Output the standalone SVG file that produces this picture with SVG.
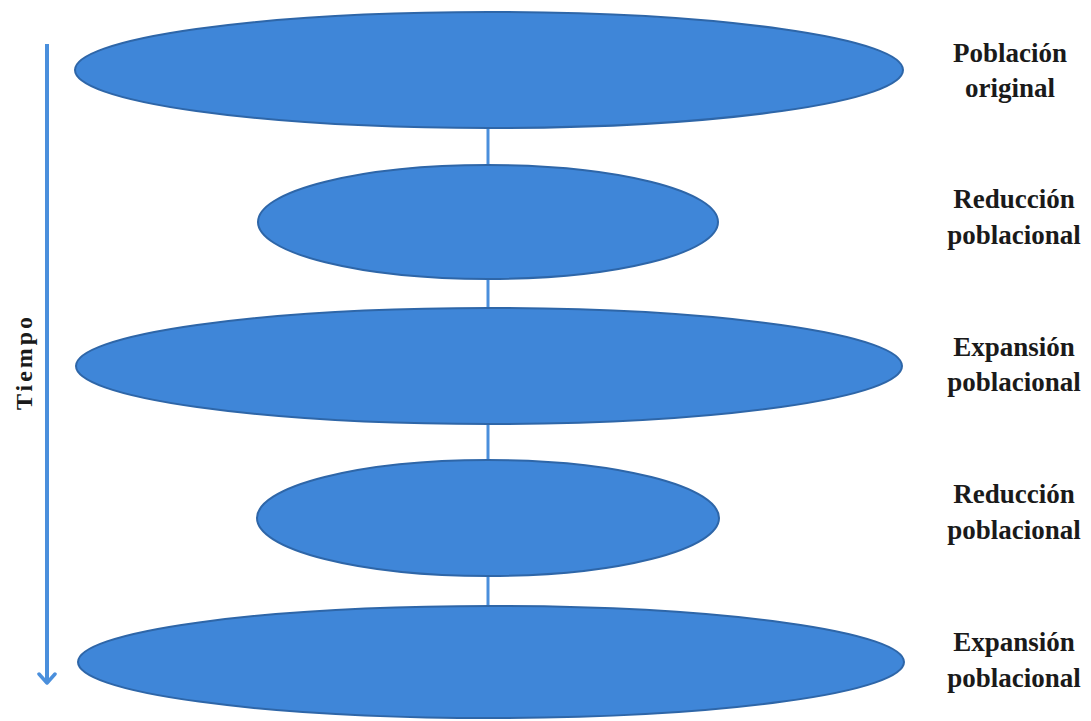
<svg xmlns="http://www.w3.org/2000/svg" width="1091" height="721" viewBox="0 0 1091 721">
<style>
.pop{fill:#3f86d8;stroke:#2e66a8;stroke-width:2}
.conn{stroke:#4a8fdc;stroke-width:3;fill:none}
.lbl{font-family:"Liberation Serif",serif;font-weight:bold;font-size:27px;fill:#1a1a1a;text-anchor:middle}
</style>
<defs>
<marker id="chev" viewBox="0 0 20 20" refX="17" refY="10" markerWidth="20" markerHeight="20" markerUnits="userSpaceOnUse" orient="auto">
<path d="M8,2 L17,10 L8,18" fill="none" stroke="#4a8fdc" stroke-width="3.5" stroke-linecap="round" stroke-linejoin="round"/>
</marker>
</defs>
<rect width="1091" height="721" fill="#ffffff"/>
<g id="connectors">
<line class="conn" x1="488" y1="127" x2="488" y2="166"/>
<line class="conn" x1="488" y1="278" x2="488" y2="310"/>
<line class="conn" x1="488" y1="423" x2="488" y2="462"/>
<line class="conn" x1="488" y1="575" x2="488" y2="607"/>
<line id="time-arrow" x1="47" y1="44" x2="47" y2="683" stroke="#4a8fdc" stroke-width="4" marker-end="url(#chev)"/>
</g>
<g id="n1"><ellipse class="pop" cx="489" cy="70" rx="414" ry="58"/></g>
<g id="n2"><ellipse class="pop" cx="488" cy="222" rx="230" ry="57"/></g>
<g id="n3"><ellipse class="pop" cx="489" cy="366" rx="413" ry="58"/></g>
<g id="n4"><ellipse class="pop" cx="488" cy="518" rx="231" ry="58"/></g>
<g id="n5"><ellipse class="pop" cx="491" cy="662" rx="413" ry="56"/></g>
<g id="l1"><text class="lbl" x="1010" y="62">Población</text><text class="lbl" x="1010" y="97">original</text></g>
<g id="l2"><text class="lbl" x="1014" y="208">Reducción</text><text class="lbl" x="1014" y="244">poblacional</text></g>
<g id="l3"><text class="lbl" x="1014" y="356">Expansión</text><text class="lbl" x="1014" y="391">poblacional</text></g>
<g id="l4"><text class="lbl" x="1014" y="503">Reducción</text><text class="lbl" x="1014" y="539">poblacional</text></g>
<g id="l5"><text class="lbl" x="1014" y="651">Expansión</text><text class="lbl" x="1014" y="687">poblacional</text></g>
<g id="time-label"><text class="lbl" style="font-size:24px;letter-spacing:3px" transform="translate(32,362) rotate(-90)" x="0" y="0">Tiempo</text></g>
</svg>
